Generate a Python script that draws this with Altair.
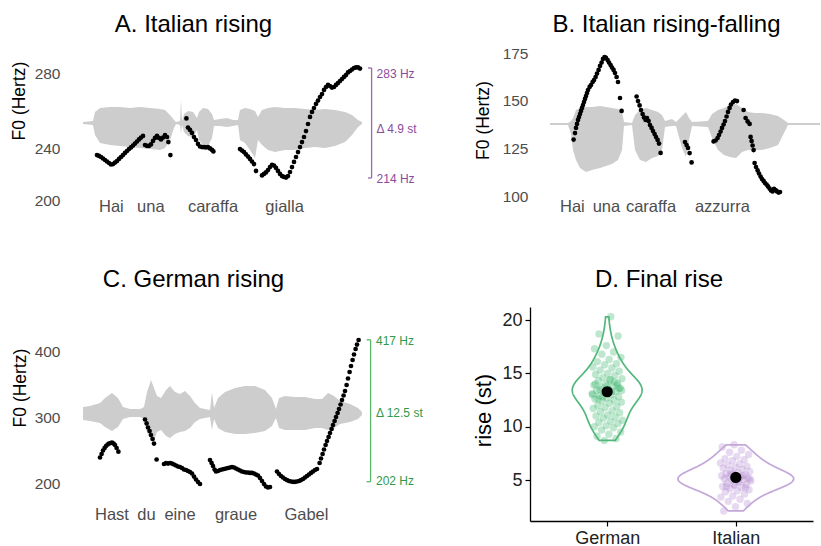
import altair as alt
import pandas as pd

FONT = "Liberation Sans"
WAVE = "#CDCDCD"
PURPLE_TXT = "#8A4B9C"
PURPLE_LINE = "#9B67AE"
GREEN_TXT = "#2F9A4B"
GREEN_LINE = "#5BB46B"
VIOLIN_GREEN = "#52B77A"
VIOLIN_PURPLE = "#C4A7D9"
PT_GREEN = "#3DB56E"
PT_PURPLE = "#B48BD0"

# ---------------- Panel A: Italian rising (time in ms, F0 in Hz) ----------------
a_t = [70, 80, 90, 100, 110, 120, 130, 140, 150, 160, 170, 180, 190, 200, 210, 220, 230, 240, 250, 260, 270, 280, 290, 300,
       310, 320, 330, 340, 350, 360, 370, 380, 390, 400, 410, 420, 427, 437,
       517, 525, 535, 545, 555, 565, 575, 585, 595, 605, 615, 625, 635, 645, 652,
       785, 795, 805, 815, 825, 835, 845, 855, 865,
       895, 905, 915, 925, 935, 945, 955, 965, 975, 985, 995, 1005, 1015, 1025, 1035, 1045, 1055, 1065, 1075, 1085,
       1095, 1105, 1115, 1125, 1135, 1145, 1155, 1165, 1175, 1185, 1195, 1205, 1215, 1225, 1235, 1245, 1255, 1265, 1275, 1285,
       1295, 1305, 1315, 1325, 1335, 1345, 1355, 1365, 1375, 1385]
a_hz = [233.9, 233.1, 232.2, 230.9, 229.6, 228.3, 227.0, 225.7, 226.1, 227.4, 228.7, 230.5, 232.2, 233.9, 235.7, 237.4, 239.1, 240.3, 241.3, 242.4, 243.5, 244.6, 245.6, 246.5,
        241.6, 241.1, 241.1, 241.9, 243.8, 245.4, 246.5, 245.4, 244.6, 245.6, 247.0, 245.9, 243.2, 233.9,
        255.9, 251.0, 249.7, 248.1, 245.9, 244.3, 242.2, 240.8, 240.5, 240.5, 240.3, 240.5, 239.6, 238.3, 237.0,
        239.1, 237.8, 236.5, 234.4, 232.6, 230.5, 228.3, 226.1, 220.1,
        216.2, 217.5, 218.8, 220.9, 223.5, 225.3, 224.8, 222.7, 220.1, 217.5, 215.7, 214.9, 214.4, 215.7, 219.2, 223.5, 227.9, 232.2, 236.5, 240.5,
        243.2, 245.9, 249.1, 252.9, 256.7, 259.4, 261.5, 263.7, 265.5, 267.4, 269.0, 271.2, 272.8, 273.9, 273.3, 272.5, 272.8, 273.9, 274.9, 276.0,
        277.1, 278.2, 279.2, 280.6, 281.4, 282.2, 283.0, 283.3, 283.3, 282.7]
a_wave_t = [0, 50, 60, 85, 135, 185, 235, 285, 335, 385, 410, 435, 455, 465, 485, 490, 495, 505, 525, 550,
            570, 580, 600, 625, 645, 655, 685, 720, 750, 775, 785, 810, 835, 860, 875, 895, 925, 960, 1010, 1060,
            1110, 1160, 1210, 1260, 1310, 1345, 1375, 1395]
a_wave_top = [254.0, 254.5, 259.4, 261.5, 262.0, 262.0, 261.5, 262.0, 261.5, 261.0, 260.4, 257.7, 255.1, 254.0, 254.5, 265.8, 254.5, 258.3, 259.9, 259.4,
              256.1, 259.4, 261.5, 261.0, 258.3, 255.1, 255.6, 256.1, 255.1, 255.1, 260.4, 261.5, 261.0, 259.9, 256.7, 260.4, 261.5, 262.0, 261.5, 261.5,
              261.0, 260.4, 261.0, 260.4, 259.4, 257.7, 255.1, 254.0]
a_wave_bot = [252.9, 252.4, 247.0, 242.7, 241.6, 241.1, 240.5, 240.0, 239.1, 238.3, 240.0, 244.3, 250.8, 252.9, 252.4, 248.1, 252.4, 248.6, 246.5, 245.9,
              249.7, 244.3, 241.6, 241.1, 245.4, 251.8, 251.8, 251.3, 251.8, 252.4, 244.3, 242.7, 238.3, 231.3, 244.3, 241.6, 238.3, 236.5, 238.3, 238.3,
              240.0, 240.5, 240.0, 241.1, 243.2, 247.0, 251.3, 252.9]
a_words = ["Hai", "una", "caraffa", "gialla"]
a_word_t = [142, 339, 650, 1008]
a_word_hz = 195.5
a_ticks = [200, 240, 280]
a_bracket = {"t": 1443, "serif": 1425, "lo": 214, "hi": 283, "label_t": 1468,
             "labels": ["283 Hz", "Δ 4.9 st", "214 Hz"], "label_hz": [279.6, 250.3, 213.1]}

# ---------------- Panel B: Italian rising-falling ----------------
b_t = [118, 125, 130, 135, 140, 145, 150, 155, 160, 165, 170, 175, 180, 185, 190, 198, 205, 213, 220, 228,
       235, 243, 250, 258, 265, 273, 280, 288, 295, 303, 310, 318, 325, 333, 340, 350, 358,
       433, 440, 448, 455, 463, 470, 478, 485, 493, 500, 508, 515, 523, 530, 538, 545, 553,
       675, 683, 690, 698, 708,
       818, 828, 838, 845, 853, 860, 868, 875, 883, 890, 898, 905, 915, 925, 935,
       968, 978, 988, 998, 1003, 1008, 1013, 1018, 1023, 1030, 1038, 1045, 1053, 1060, 1068, 1075, 1083, 1090, 1098, 1105,
       1113, 1120, 1128, 1135, 1143, 1150]
b_hz = [129.6, 133.0, 135.7, 137.8, 139.9, 141.4, 143.0, 144.6, 146.2, 147.7, 149.3, 150.9, 152.4, 154.0, 155.6, 157.2, 158.2, 159.8, 160.8, 162.4,
        164.2, 166.1, 168.2, 170.0, 171.9, 172.9, 172.4, 171.3, 170.0, 168.7, 167.4, 166.1, 164.5, 162.4, 159.8, 151.4, 144.6,
        152.2, 149.8, 147.5, 145.1, 143.0, 141.2, 139.9, 140.9, 139.3, 137.2, 135.7, 134.1, 132.5, 130.9, 129.4, 127.5, 122.6,
        128.3, 126.7, 125.2, 122.5, 117.6,
        128.6, 129.1, 130.4, 132.0, 133.8, 135.7, 137.5, 139.3, 141.7, 144.1, 146.2, 148.0, 149.3, 150.1, 149.8,
        145.1, 140.9, 139.1, 137.8, 131.0, 128.8, 126.5, 124.1, 117.3, 115.2, 113.4, 111.8, 110.2, 108.9, 107.9, 106.8, 106.0, 105.0, 103.9, 102.9,
        102.4, 103.7, 103.1, 102.4, 101.8, 102.1]
b_wave_t = [0, 90, 105, 115, 130, 150, 180, 210, 250, 280, 310, 340, 360, 370, 410, 425, 450, 480, 510, 540,
            560, 575, 610, 630, 660, 680, 695, 710, 790, 810, 840, 870, 900, 930, 960, 990, 1025, 1060, 1100, 1140,
            1170, 1190, 1350]
b_wave_top = [138.3, 138.3, 139.3, 140.9, 145.1, 146.2, 146.7, 146.7, 147.2, 146.7, 146.2, 145.6, 144.1, 138.8, 138.3, 142.5, 145.1, 146.2, 145.1, 144.1,
              142.5, 139.3, 140.4, 138.8, 142.0, 144.1, 140.9, 138.8, 139.3, 143.0, 145.1, 146.2, 147.7, 148.3, 146.2, 144.1, 143.5, 143.5, 143.0, 142.0,
              139.9, 138.3, 138.3]
b_wave_bot = [137.2, 137.2, 132.5, 124.1, 118.9, 114.7, 112.6, 113.6, 114.7, 115.7, 116.8, 118.9, 124.1, 136.7, 137.2, 124.1, 118.9, 117.8, 119.9, 121.0,
              124.1, 136.2, 136.7, 136.7, 125.2, 120.5, 129.4, 136.7, 136.2, 130.4, 124.1, 121.5, 120.5, 119.9, 123.1, 124.1, 124.1, 124.1, 125.2, 126.7,
              133.0, 137.2, 137.2]
b_words = ["Hai", "una", "caraffa", "azzurra"]
b_word_t = [112, 282, 505, 862]
b_word_hz = 94.1
b_ticks = [100, 125, 150, 175]

# ---------------- Panel C: German rising ----------------
c_t = ([85, 93, 100, 108, 115, 123, 130, 138, 145, 153, 160, 168, 177]
       + [310, 318, 325, 333, 340, 348, 355, 368]
       + [405, 415, 425, 435, 445, 455, 465, 475, 485, 495, 505, 515, 525, 535, 545, 555, 565, 575, 585]
       + [635, 643, 650, 658, 665, 675, 685, 695, 705, 715, 725, 735, 745, 755, 765, 775, 785, 795, 805, 815,
          825, 835, 845, 855, 865, 875, 885, 895, 905, 915, 925, 935]
       + [970, 980, 990, 1000, 1010, 1020, 1030, 1040, 1050, 1060, 1070, 1080, 1090, 1100, 1110, 1120, 1130, 1140, 1150, 1160, 1170]
       + [1183, 1190, 1198, 1205, 1213, 1220, 1228, 1235, 1243, 1250, 1258, 1265, 1273, 1280, 1288, 1295, 1303, 1310, 1318, 1325,
          1333, 1340, 1348, 1355, 1363, 1370, 1378])
c_hz = ([238.6, 243.9, 249.2, 253.0, 256.1, 258.3, 259.8, 260.6, 261.4, 259.8, 257.6, 253.0, 247.4]
        + [296.2, 290.2, 284.1, 278.8, 272.7, 266.7, 259.8, 235.6]
        + [228.8, 230.3, 229.5, 230.3, 229.5, 228.0, 226.5, 225.0, 224.2, 222.7, 220.5, 219.7, 218.2, 216.7, 214.4, 209.8, 205.3, 201.5, 198.5]
        + [234.8, 230.3, 225.8, 220.5, 217.4, 218.2, 219.7, 220.5, 221.2, 222.0, 222.7, 223.5, 224.2, 223.5, 222.0, 220.5, 218.9, 217.4, 216.7, 215.9,
           215.9, 215.2, 215.2, 214.4, 212.9, 211.4, 207.6, 203.0, 198.5, 194.7, 193.2, 193.9]
        + [217.4, 213.6, 210.6, 208.3, 206.1, 204.5, 203.0, 202.3, 201.8, 201.8, 202.3, 203.0, 204.5, 206.1, 208.3, 210.6, 212.9, 215.2, 217.4, 219.7, 221.2]
        + [230.3, 237.1, 243.9, 250.8, 257.6, 263.6, 269.7, 275.8, 281.8, 287.9, 293.9, 300.0, 306.1, 312.1, 318.9, 325.8, 332.6, 339.4, 348.5, 358.3,
           368.2, 377.3, 386.4, 394.7, 403.0, 409.8, 416.7])
c_wave_t = [0, 35, 85, 110, 145, 175, 200, 235, 285, 305, 320, 340, 355, 370, 390, 415, 435, 460, 485, 510,
            535, 560, 585, 635, 645, 655, 675, 710, 760, 810, 860, 910, 945, 965, 980, 1010, 1060, 1110, 1160, 1195,
            1225, 1255, 1285, 1335, 1375, 1395]
c_wave_top = [315.2, 316.7, 321.2, 328.8, 336.4, 328.8, 315.2, 312.1, 312.1, 315.2, 337.9, 356.1, 343.9, 331.8, 328.8, 340.9, 347.0, 337.9, 334.8, 339.4,
              331.8, 321.2, 313.6, 310.6, 337.9, 313.6, 328.8, 337.9, 343.9, 347.0, 347.0, 340.9, 328.8, 312.1, 328.8, 331.8, 330.3, 330.3, 327.3, 327.3,
              336.4, 331.8, 324.2, 319.7, 313.6, 307.6]
c_wave_bot = [295.5, 293.9, 290.9, 284.8, 278.8, 284.8, 297.0, 300.0, 300.0, 297.0, 277.3, 265.2, 265.2, 277.3, 280.3, 271.2, 268.2, 274.2, 277.3, 278.8,
              283.3, 292.4, 297.0, 300.0, 280.3, 297.0, 283.3, 277.3, 274.2, 274.2, 275.8, 278.8, 286.4, 298.5, 283.3, 280.3, 280.3, 280.3, 283.3, 283.3,
              280.3, 283.3, 289.4, 292.4, 297.0, 303.0]
c_words = ["Hast", "du", "eine", "graue", "Gabel"]
c_word_t = [145, 317, 485, 765, 1117]
c_word_hz = 151.5
c_ticks = [200, 300, 400]
c_bracket = {"t": 1438, "serif": 1418, "lo": 202, "hi": 417, "label_t": 1465,
             "labels": ["417 Hz", "Δ 12.5 st", "202 Hz"], "label_hz": [414.5, 306.2, 202.4]}

# ---------------- Panel D: final rise (semitones) ----------------
d_german = [20.3, 18.7, 18.5, 17.6, 17.3, 17.0, 16.8, 16.5, 16.3, 16.1, 15.9, 15.8, 15.6, 15.5, 15.3, 15.2, 15.0, 14.9, 14.8, 14.6,
            14.5, 14.4, 14.3, 14.1, 14.0, 13.9, 13.8, 13.7, 13.6, 13.5, 13.4, 13.3, 13.2, 13.1, 13.0, 12.9, 12.8, 12.7, 12.6, 12.5,
            12.4, 12.3, 12.2, 12.0, 11.9, 11.8, 11.7, 11.5, 11.4, 11.3, 11.1, 11.0, 10.9, 10.8, 10.6, 10.5, 10.4, 10.3, 10.1, 10.0,
            9.9, 9.7, 9.5, 9.3, 9.1, 8.9, 8.7, 13.0, 13.3, 13.5, 13.6, 13.8, 14.0, 14.2, 12.8, 13.4, 14.4, 12.6, 13.9]
d_italian = [8.3, 8.1, 7.8, 7.6, 7.4, 7.2, 7.0, 6.9, 6.8, 6.6, 6.5, 6.4, 6.3, 6.2, 6.1, 6.0, 5.9, 5.8, 5.7, 5.6,
             5.5, 5.5, 5.4, 5.3, 5.3, 5.2, 5.2, 5.1, 5.0, 5.0, 4.9, 4.8, 4.7, 4.6, 4.5, 4.4, 4.3, 4.2, 4.1, 4.0,
             3.9, 3.7, 3.5, 3.4, 3.2, 3.0, 2.8, 2.5, 2.1, 5.4, 5.6, 5.1, 4.9, 4.4, 4.3, 4.6]
d_groups = ["German", "Italian"]
d_ticks = [5, 10, 15, 20]

for a, b in [(a_t, a_hz), (a_wave_t, a_wave_top), (a_wave_t, a_wave_bot), (b_t, b_hz), (b_wave_t, b_wave_top),
             (b_wave_t, b_wave_bot), (c_t, c_hz), (c_wave_t, c_wave_top), (c_wave_t, c_wave_bot)]:
    assert len(a) == len(b), (len(a), len(b))


def y_axis(values, offset, title, tx, ty):
    return alt.Axis(orient="left", offset=offset, values=values, ticks=False, tickSize=0, domain=False, grid=False,
                    labelPadding=0, labelFont=FONT, labelFontSize=15.5, labelColor="#4D4D4D", labelFlush=False,
                    labelOverlap=False, title=title, titleFont=FONT, titleFontSize=17.5, titleFontWeight="normal",
                    titleColor="black", titleX=tx, titleY=ty, titleAngle=270, titleAlign="center",
                    titleBaseline="middle")


def pitch_panel(xs, ys, yax, t, hz, wt, wtop, wbot, words, word_t, word_hz, bracket=None, cl=None, ct=None):
    X = lambda f: alt.X(f, scale=xs, axis=None)
    Y = lambda f: alt.Y(f, scale=ys, axis=yax)
    wave = pd.DataFrame({"t": wt, "top": wtop, "bot": wbot})
    dots = pd.DataFrame({"t": t, "hz": hz})
    wdf = pd.DataFrame({"word": words, "t": word_t, "hz": [word_hz] * len(words)})
    layers = [
        alt.Chart(wave).mark_area(color=WAVE, opacity=1).encode(x=X("t:Q"), y=Y("top:Q"), y2="bot:Q"),
        alt.Chart(dots).mark_circle(size=22, color="black", opacity=1).encode(x=X("t:Q"), y=Y("hz:Q")),
        alt.Chart(wdf).mark_text(font=FONT, fontSize=16.5, color="#4D4D4D", align="center", baseline="middle")
        .encode(x=X("t:Q"), y=Y("hz:Q"), text="word:N"),
    ]
    if bracket:
        v = pd.DataFrame({"t": [bracket["t"]], "lo": [bracket["lo"]], "hi": [bracket["hi"]]})
        s = pd.DataFrame({"t1": [bracket["serif"]] * 2, "t2": [bracket["t"]] * 2, "hz": [bracket["lo"], bracket["hi"]]})
        lab = pd.DataFrame({"label": bracket["labels"], "t": [bracket["label_t"]] * 3, "hz": bracket["label_hz"]})
        layers += [
            alt.Chart(v).mark_rule(color=cl, strokeWidth=1.3).encode(x=X("t:Q"), y=Y("lo:Q"), y2="hi:Q"),
            alt.Chart(s).mark_rule(color=cl, strokeWidth=1.3).encode(x=X("t1:Q"), x2="t2:Q", y=Y("hz:Q")),
            alt.Chart(lab).mark_text(font=FONT, fontSize=12, color=ct, align="left", baseline="middle")
            .encode(x=X("t:Q"), y=Y("hz:Q"), text="label:N"),
        ]
    return alt.layer(*layers)


xA = alt.Scale(domain=[0, 1395], range=[83, 362], nice=False, zero=False)
yA = alt.Scale(domain=[200, 214, 240, 283], range=[200, 178, 148, 68], nice=False, zero=False)
panelA = pitch_panel(xA, yA, y_axis(a_ticks, -60, "F0 (Hertz)", -40.5, 100.5), a_t, a_hz, a_wave_t, a_wave_top,
                     a_wave_bot, a_words, a_word_t, a_word_hz, a_bracket, PURPLE_LINE, PURPLE_TXT)

xB = alt.Scale(domain=[0, 1350], range=[550, 820], nice=False, zero=False)
yB = alt.Scale(domain=[100, 175], range=[196, 53], nice=False, zero=False)
panelB = pitch_panel(xB, yB, y_axis(b_ticks, -528, "F0 (Hertz)", -44.5, 120), b_t, b_hz, b_wave_t, b_wave_top,
                     b_wave_bot, b_words, b_word_t, b_word_hz)

xC = alt.Scale(domain=[0, 1395], range=[83, 362], nice=False, zero=False)
yC = alt.Scale(domain=[200, 400], range=[483, 351], nice=False, zero=False)
panelC = pitch_panel(xC, yC, y_axis(c_ticks, -60, "F0 (Hertz)", -40, 387.5), c_t, c_hz, c_wave_t, c_wave_top,
                     c_wave_bot, c_words, c_word_t, c_word_hz, c_bracket, GREEN_LINE, GREEN_TXT)

# Panel D
df_d = pd.DataFrame({"lang": [d_groups[0]] * len(d_german) + [d_groups[1]] * len(d_italian),
                     "rise": d_german + d_italian})
xD = alt.Scale(domain=[0.4, 2.6], range=[530, 813], nice=False, zero=False)
yD = alt.Scale(domain=[1.16, 21.22], range=[521, 307], nice=False, zero=False)
axDx = alt.Axis(orient="bottom", offset=-25, values=[1, 2], labelExpr="datum.value == 1 ? 'German' : 'Italian'",
                grid=False, domainColor="black", domainWidth=1.3, tickColor="black", tickSize=5, tickWidth=1.2,
                labelFont=FONT, labelFontSize=18, labelColor="#222222", labelPadding=3, labelFlush=False, title=None)
axDy = alt.Axis(orient="left", offset=-530, values=d_ticks, grid=False, domainColor="black", domainWidth=1.3,
                tickColor="black", tickSize=5, tickWidth=1.2, labelFont=FONT, labelFontSize=18, labelColor="#222222",
                labelPadding=3, labelFlush=False, title="rise (st)", titleFont=FONT, titleFontSize=22,
                titleFontWeight="normal", titleColor="black", titleX=-46.5, titleY=410, titleAngle=270,
                titleAlign="center", titleBaseline="middle")
pos_expr = "datum.lang === 'German' ? 1 : 2"

# violin: kernel density per group, trimmed to each group's data range, width scaled by the largest density
violin = (alt.Chart(df_d)
          .transform_joinaggregate(mn="min(rise)", mx="max(rise)", groupby=["lang"])
          .transform_density("rise", groupby=["lang", "mn", "mx"], as_=["rise", "density"], steps=600)
          .transform_filter("datum.rise >= datum.mn && datum.rise <= datum.mx")
          .transform_joinaggregate(maxd="max(density)")
          .transform_calculate(pos=pos_expr)
          .transform_calculate(lo="datum.pos - datum.density / datum.maxd * 0.45",
                               hi="datum.pos + datum.density / datum.maxd * 0.45")
          .mark_area(orient="horizontal", fillOpacity=0, strokeWidth=1.7)
          .encode(y=alt.Y("rise:Q", scale=yD, axis=axDy), x=alt.X("lo:Q", scale=xD, axis=axDx), x2="hi:Q",
                  detail="lang:N",
                  stroke=alt.Stroke("lang:N", scale=alt.Scale(domain=d_groups, range=[VIOLIN_GREEN, VIOLIN_PURPLE]),
                                    legend=None)))
points = (alt.Chart(df_d)
          .transform_window(idx="row_number()")
          .transform_calculate(pos=pos_expr)
          .transform_calculate(jx="datum.pos + ((datum.idx * 0.6180339887) % 1 - 0.5) * 0.24")
          .mark_circle(size=55, opacity=0.33)
          .encode(x=alt.X("jx:Q", scale=xD, axis=axDx), y=alt.Y("rise:Q", scale=yD, axis=axDy),
                  color=alt.Color("lang:N", scale=alt.Scale(domain=d_groups, range=[PT_GREEN, PT_PURPLE]),
                                  legend=None)))
means = (alt.Chart(df_d)
         .transform_aggregate(m="mean(rise)", groupby=["lang"])
         .transform_calculate(pos=pos_expr)
         .mark_circle(size=125, color="black", opacity=1)
         .encode(x=alt.X("pos:Q", scale=xD, axis=axDx), y=alt.Y("m:Q", scale=yD, axis=axDy)))
panelD = alt.layer(points, violin, means)


def panel_title(text, x, y):
    return (alt.Chart(alt.Data(values=[{}]))
            .mark_text(text=text, font=FONT, fontSize=24, color="black", align="center", baseline="alphabetic")
            .encode(x=alt.value(x), y=alt.value(y)))


chart = (alt.layer(panelA, panelB, panelC, panelD,
                   panel_title("A. Italian rising", 193.5, 31.5),
                   panel_title("B. Italian rising-falling", 666.5, 31.5),
                   panel_title("C. German rising", 193.5, 286.5),
                   panel_title("D. Final rise", 659, 286.5))
         .resolve_scale(x="independent", y="independent")
         .properties(width=821, height=546, padding=0, background="white",
                     autosize=alt.AutoSizeParams(type="none"))
         .configure(font=FONT)
         .configure_view(strokeWidth=0))

chart.save("out.html", embed_options={"renderer": "svg", "actions": False})
